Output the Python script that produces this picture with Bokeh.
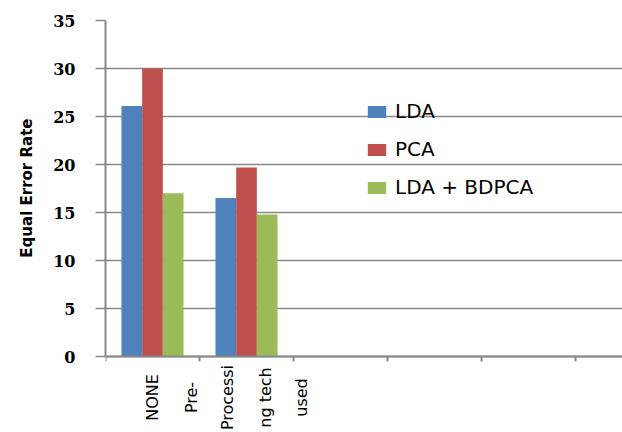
import math
from bokeh.plotting import figure
from bokeh.models import FixedTicker, Legend, LegendItem, Range1d, ColumnDataSource, Title
from bokeh.core.properties import value
from bokeh.embed import file_html
from bokeh.resources import INLINE

# ---- data ----
categories = ["NONE", "Pre-Processing tech used"]
category_label_lines = [["NONE"], ["Pre-", "Processi", "ng tech", "used"]]
series_names = ["LDA", "PCA", "LDA + BDPCA"]
lda = [26.1, 16.5]
pca = [30.0, 19.7]
lda_bdpca = [17.0, 14.8]
y_ticks = [0, 5, 10, 15, 20, 25, 30, 35]
y_title = "Equal Error Rate"
slot_count = 5  # category slots drawn on the axis (only two filled)

# ---- styling / layout ----
colors = ["#4F81BD", "#C0504D", "#9BBB59"]
bar_w = 0.22
offsets = [-0.22, 0.0, 0.22]
line_offsets = {1: [0.0], 4: [-0.59, -0.2, 0.2, 0.59]}
grid_col = "#888888"
H = 432
top_px = 20          # frame top
zero_px = 356        # where value 0 sits on screen
frame_bottom_px = 432
px_per_unit = (zero_px - top_px) / 35.0
y_min = -(frame_bottom_px - zero_px) / px_per_unit

p = figure(width=622, height=H, x_range=Range1d(0, slot_count + 0.5),
           y_range=Range1d(y_min, 35), output_backend="svg", toolbar_location=None,
           min_border_left=105, min_border_right=0, min_border_top=top_px,
           min_border_bottom=0)
p.outline_line_color = None
p.background_fill_color = "white"
p.border_fill_color = "white"
p.xgrid.visible = False
p.ygrid.grid_line_color = grid_col
p.ygrid.grid_line_width = 1.5

series = [lda, pca, lda_bdpca]
renderers = []
for k, vals in enumerate(series):
    xs = [i + 0.5 + offsets[k] for i in range(len(categories))]
    r = p.vbar(x=xs, top=vals, bottom=0, width=bar_w, fill_color=colors[k], line_color=None)
    renderers.append(r)

# x axis drawn at value 0; ticks mark slot boundaries
p.xaxis.fixed_location = 0
p.xaxis.ticker = FixedTicker(ticks=[], minor_ticks=list(range(slot_count + 1)))
p.xaxis.major_label_text_font_size = "0px"
p.xaxis.major_label_standoff = 0
p.xaxis.major_tick_out = 0
p.xaxis.major_tick_in = 0
p.xaxis.minor_tick_out = 5
p.xaxis.minor_tick_in = 0
p.xaxis.minor_tick_line_color = grid_col
p.xaxis.minor_tick_line_width = 2
p.xaxis.axis_line_color = grid_col
p.xaxis.axis_line_width = 2

# category names, rotated, below the axis
lx, lt = [], []
for i, lines in enumerate(category_label_lines):
    for ln, o in zip(lines, line_offsets[len(lines)]):
        lx.append(i + 0.5 + o)
        lt.append(ln)
src = ColumnDataSource(dict(x=lx, y=[0] * len(lx), text=lt))
p.text(x="x", y="y", text="text", source=src, angle=math.pi / 2, y_offset=41,
       text_align="center", text_baseline="middle", text_font=value("DejaVu Sans"),
       text_font_size="16px", text_color="black")

# y axis
p.yaxis.ticker = FixedTicker(ticks=y_ticks)
p.yaxis.bounds = (0, 35)
p.yaxis.major_tick_out = 10
p.yaxis.major_tick_in = 0
p.yaxis.minor_tick_line_color = None
p.yaxis.major_tick_line_color = grid_col
p.yaxis.major_tick_line_width = 1.5
p.yaxis.axis_line_color = grid_col
p.yaxis.axis_line_width = 2
p.yaxis.major_label_standoff = 20
p.yaxis.major_label_text_font = "DejaVu Serif"
p.yaxis.major_label_text_font_style = "bold"
p.yaxis.major_label_text_font_size = "16px"
p.yaxis.major_label_text_color = "black"

# y title, placed along the 0..35 stretch of the axis
p.add_layout(Title(text=y_title, align="right", offset=118 - top_px,
                   text_font="DejaVu Sans", text_font_style="bold",
                   text_font_size="15px", text_color="black", standoff=30), "left")

legend = Legend(items=[LegendItem(label=n, renderers=[r]) for n, r in zip(series_names, renderers)],
                location=(260, 157 + (frame_bottom_px - zero_px)), padding=0, margin=0, spacing=14,
                glyph_width=23, glyph_height=15, label_height=23, label_standoff=7,
                border_line_color=None, background_fill_alpha=0,
                label_text_font="DejaVu Sans", label_text_font_size="20px",
                label_text_color="black")
p.add_layout(legend)

open("out.html", "w").write(file_html(p, INLINE))
